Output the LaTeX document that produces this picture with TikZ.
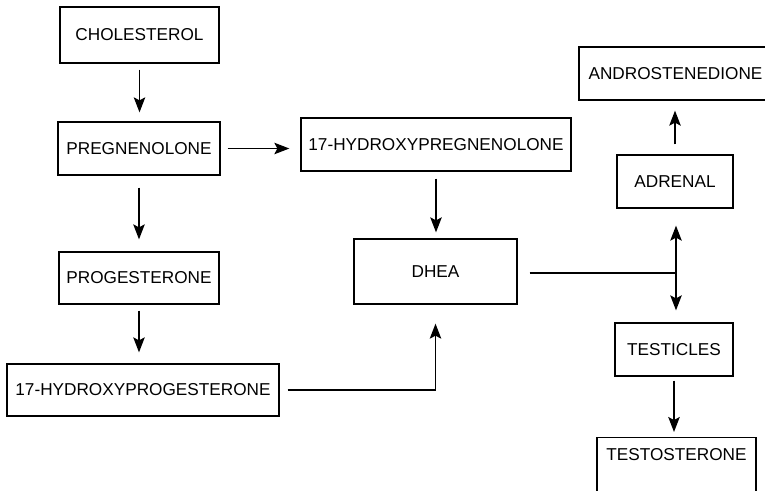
\documentclass[tikz,border=0pt]{standalone}
\usepackage{fontspec}
\setmainfont{Liberation Sans}
\usetikzlibrary{arrows.meta,positioning}

\tikzset{
  hormone/.style={draw, line width=1.3pt, inner sep=0pt, font=\fontsize{17.2pt}{20pt}\selectfont},
  flow/.style={->, line width=1.3pt}
}

\begin{document}
\begin{tikzpicture}[x=1pt, y=-1pt, >={Stealth[length=15pt, width=11.5pt, inset=3pt]}]
\useasboundingbox (0,0) rectangle (765,490);

% Left column: cholesterol down to the progesterones
\node[hormone, minimum width=159pt, minimum height=56pt] (chol) at (139.5,35) {CHOLESTEROL};
\node[hormone, minimum width=162pt, minimum height=53pt] (preg) at (139,148.5) {PREGNENOLONE};
\node[hormone, minimum width=160pt, minimum height=52pt] (prog) at (139,278) {PROGESTERONE};
\node[hormone, minimum width=272pt, minimum height=52pt] (hprog) at (143,390) {17-HYDROXYPROGESTERONE};

% Middle column
\node[hormone, minimum width=270pt, minimum height=53pt] (hpreg) at (436,144.5) {17-HYDROXYPREGNENOLONE};
\node[hormone, minimum width=163pt, minimum height=65pt] (dhea) at (435.5,271.5) {DHEA};

% Right column: adrenal and testicles branches
\node[hormone, minimum width=193pt, minimum height=53pt] (andro) at (675.5,73.5) {ANDROSTENEDIONE};
\node[hormone, minimum width=116pt, minimum height=53pt] (adrenal) at (675,181.5) {ADRENAL};
\node[hormone, minimum width=118pt, minimum height=53pt] (test) at (674,349.5) {TESTICLES};
\node[hormone, anchor=north, minimum width=159pt, inner ysep=11pt, text depth=40pt] (testo) at (676.5,437) {TESTOSTERONE};

\coordinate (split) at (676,273);

% Arrows
\draw[flow, shorten <=6pt, shorten >=9pt] (chol.south) -- (chol.south |- preg.north);
\draw[flow, shorten <=7pt, shorten >=11pt] (preg.east) -- (preg.east -| hpreg.west);
\draw[flow, shorten <=12pt, shorten >=12pt] (preg.south) -- (preg.south |- prog.north);
\draw[flow, shorten <=6pt, shorten >=11pt] (prog.south) -- (prog.south |- hprog.north);
\draw[flow, shorten <=7pt, shorten >=6pt] (hpreg.south) -- (hpreg.south |- dhea.north);
\draw[flow, shorten <=8pt, shorten >=19pt] (hprog.east) -| (dhea.south);

% DHEA splits to adrenal and testicles
\draw[line width=1.3pt, shorten <=12pt] (dhea.east |- split) -- (split);
\draw[flow, shorten >=17pt] (split) -- (split |- adrenal.south);
\draw[flow, shorten >=12pt] (split) -- (split |- test.north);
\draw[flow, shorten <=10pt, shorten >=10pt] (adrenal.north) -- (adrenal.north |- andro.south);
\draw[flow, shorten <=4pt, shorten >=5pt] (test.south) -- (test.south |- testo.north);
\end{tikzpicture}
\end{document}
